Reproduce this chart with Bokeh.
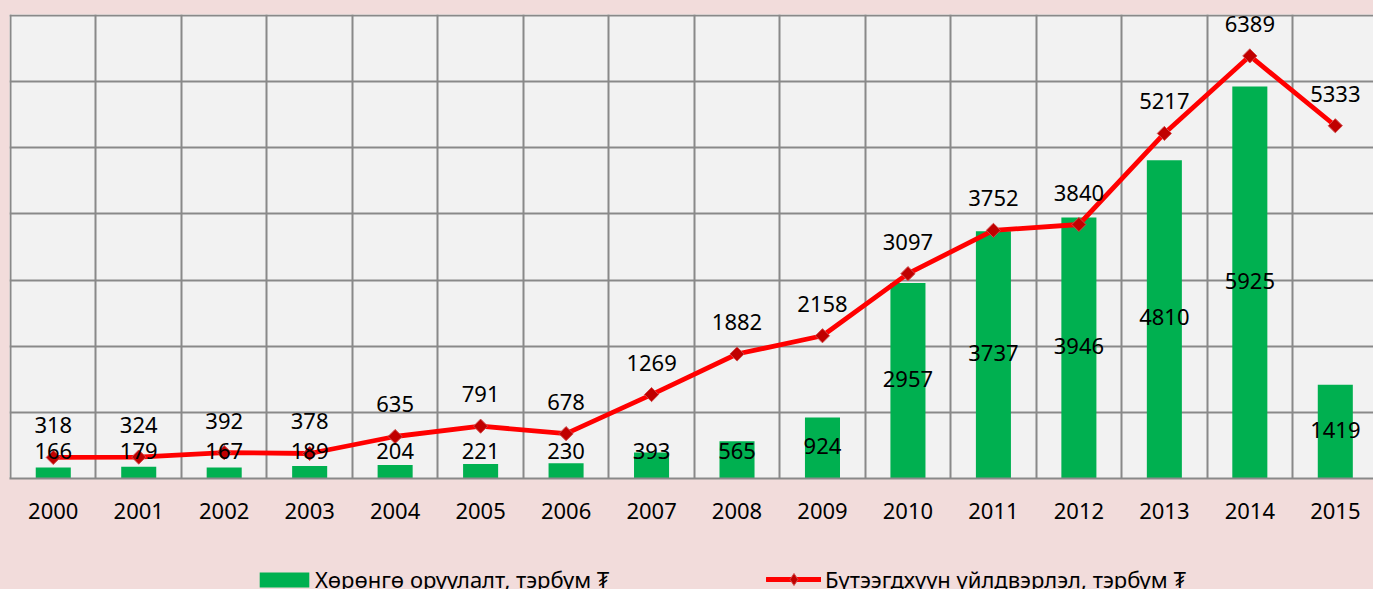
from bokeh.plotting import figure
from bokeh.layouts import column
from bokeh.models import (ColumnDataSource, Range1d, FixedTicker, LabelSet,
                          Legend, LegendItem, Grid)
from bokeh.embed import file_html
from bokeh.resources import INLINE
from bokeh.core.properties import value

years = ["2000", "2001", "2002", "2003", "2004", "2005", "2006", "2007",
         "2008", "2009", "2010", "2011", "2012", "2013", "2014", "2015"]
investment = [166, 179, 167, 189, 204, 221, 230, 393, 565, 924,
              2957, 3737, 3946, 4810, 5925, 1419]
production = [318, 324, 392, 378, 635, 791, 678, 1269, 1882, 2158,
              3097, 3752, 3840, 5217, 6389, 5333]
inv_name = "Хөрөнгө оруулалт, тэрбум ₮"
prod_name = "Бүтээгдхүүн үйлдвэрлэл, тэрбум ₮"

FONT = "Noto Sans"
FS = "22px"
GRID = "#898989"
PINK = "#F2DCDB"
GREEN = "#00B050"
RED = "#FF0000"
MARK_FILL = "#C00000"
MARK_LINE = "#D04848"

xs = list(range(len(years)))
src = ColumnDataSource(dict(
    x=xs,
    inv=investment,
    prod=production,
    inv_txt=[str(v) for v in investment],
    prod_txt=[str(v) for v in production],
    lab_y=[max(v / 2, 393) for v in investment],
))

p = figure(width=1373, height=545,
           x_range=Range1d(-0.512, 15.447), y_range=Range1d(0, 7015),
           output_backend="svg", toolbar_location=None,
           y_axis_location=None,
           min_border_left=9, min_border_right=0, min_border_top=14,
           min_border_bottom=67,
           background_fill_color="#F2F2F2", border_fill_color=PINK,
           outline_line_color=None)

p.grid.visible = False
p.add_layout(Grid(dimension=0, ticker=FixedTicker(ticks=[i - 0.5 for i in range(len(years) + 1)]),
                  grid_line_color=GRID, grid_line_width=2))
p.add_layout(Grid(dimension=1, ticker=FixedTicker(ticks=[1000, 2000, 3000, 4000, 5000, 6000, 7000]),
                  grid_line_color=GRID, grid_line_width=2))

ax = p.xaxis[0]
ax.ticker = FixedTicker(ticks=xs)
ax.major_label_overrides = {i: y for i, y in zip(xs, years)}
ax.axis_line_color = GRID
ax.axis_line_width = 2
ax.major_tick_line_color = None
ax.major_tick_out = 0
ax.minor_tick_line_color = None
ax.major_label_standoff = 24
ax.major_label_text_font = FONT
ax.major_label_text_font_size = FS
ax.major_label_text_color = "black"

p.vbar(x="x", top="inv", width=0.41, fill_color=GREEN, line_color=None, source=src)
p.line(x="x", y="prod", line_color=RED, line_width=4.8, source=src)
p.scatter(x="x", y="prod", marker="square", angle=0.785398, size=10,
          fill_color=MARK_FILL, line_color=MARK_LINE, line_width=1, source=src)

p.add_layout(LabelSet(x="x", y="lab_y", text="inv_txt", source=src,
                      y_offset=2,
                      text_align="center", text_baseline="middle",
                      text_font=value(FONT), text_font_size=value(FS),
                      text_color="black"))
p.add_layout(LabelSet(x="x", y="prod", text="prod_txt", source=src,
                      y_offset=32,
                      text_align="center", text_baseline="middle",
                      text_font=value(FONT), text_font_size=value(FS),
                      text_color="black"))

# legend strip below the chart (hidden copies of the series supply the legend glyphs)
lg = figure(width=1373, height=44, x_range=Range1d(0, 1), y_range=Range1d(0, 1),
            output_backend="svg", toolbar_location=None,
            x_axis_location=None, y_axis_location=None,
            min_border=0, background_fill_color=PINK, border_fill_color=PINK,
            outline_line_color=None)
lg.grid.visible = False
r_bar = lg.vbar(x="x", top="inv", width=0.41, fill_color=GREEN, line_color=None,
                source=src, visible=False)
r_line = lg.line(x="x", y="prod", line_color=RED, line_width=4.8,
                 line_cap="round", source=src, visible=False)
r_mark = lg.scatter(x="x", y="prod", marker="diamond", size=12,
                    fill_color=MARK_FILL, line_color=MARK_LINE, line_width=1,
                    source=src, visible=False)

def make_legend(label, renderers, loc, gw, gh, standoff):
    return Legend(items=[LegendItem(label=label, renderers=renderers, index=0)],
                  location=loc, glyph_width=gw, glyph_height=gh,
                  label_standoff=standoff, padding=0, margin=0,
                  border_line_color=None, background_fill_alpha=0,
                  label_text_font=FONT, label_text_font_size=FS,
                  label_text_color="black")

lg.add_layout(make_legend(inv_name, [r_bar], (244, -5), 62, 19, 0))
lg.add_layout(make_legend(prod_name, [r_line, r_mark], (757, -5), 55, 30, 4))

layout = column(p, lg, spacing=0, styles={"background-color": PINK})
open("out.html", "w").write(file_html(layout, INLINE))
